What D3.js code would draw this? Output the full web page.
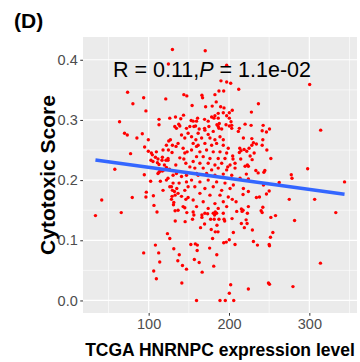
<!DOCTYPE html>
<html>
<head>
<meta charset="utf-8">
<script src="https://cdn.jsdelivr.net/npm/d3@7"></script>
<style>
  html, body { margin: 0; padding: 0; background: #fff; }
  svg text { font-family: "Liberation Sans", Arial, sans-serif; }
</style>
</head>
<body>
<div id="chart"></div>
<script>
// HNRNPC expression vs cytotoxic score, [expression, score]
const samples = [
  [129.6,0.417],[170.4,0.415],[124.6,0.393],[197.1,0.391],[190.0,0.365],[197.1,0.363],[202.1,0.361],[300.4,0.359],
  [73.8,0.346],[187.5,0.348],[193.4,0.348],[212.1,0.351],[93.8,0.337],[121.3,0.335],[143.8,0.342],[147.5,0.340],
  [166.3,0.341],[167.1,0.337],[182.5,0.342],[80.4,0.327],[96.6,0.315],[154.1,0.324],[170.9,0.322],[184.1,0.330],
  [179.1,0.323],[189.6,0.322],[193.8,0.320],[204.1,0.316],[227.9,0.313],[236.6,0.327],[186.6,0.311],[182.5,0.307],
  [178.4,0.305],[197.1,0.307],[200.4,0.303],[112.9,0.301],[133.4,0.305],[140.0,0.302],[143.4,0.308],[160.9,0.303],
  [63.8,0.297],[112.9,0.292],[137.5,0.293],[174.1,0.298],[169.6,0.301],[159.6,0.298],[155.4,0.298],[152.9,0.299],
  [158.4,0.290],[162.9,0.285],[169.6,0.286],[175.0,0.289],[187.5,0.286],[185.0,0.292],[187.9,0.294],[196.3,0.292],
  [200.4,0.290],[212.9,0.286],[220.0,0.293],[227.5,0.291],[242.5,0.291],[202.5,0.297],[314.1,0.283],[250.4,0.285],
  [241.3,0.282],[70.0,0.278],[73.4,0.275],[85.4,0.270],[92.1,0.277],[99.6,0.267],[95.0,0.255],[99.6,0.248],
  [77.5,0.244],[57.9,0.218],[94.6,0.209],[33.8,0.141],[41.6,0.167],[65.9,0.146],[79.6,0.171],[97.1,0.180],
  [96.6,0.172],[105.9,0.174],[106.6,0.158],[110.4,0.147],[102.5,0.198],[114.6,0.198],[111.6,0.211],[112.9,0.213],
  [93.8,0.079],[108.4,0.092],[112.5,0.079],[113.8,0.064],[106.3,0.049],[109.6,0.036],[123.4,0.111],[126.3,0.103],
  [131.3,0.086],[138.1,0.076],[136.3,0.066],[142.1,0.058],[147.1,0.052],[141.3,0.029],[159.6,0.000],[152.5,0.093],
  [158.1,0.094],[160.6,0.092],[160.4,0.083],[156.9,0.068],[162.9,0.063],[166.6,0.047],[175.9,0.087],[184.8,0.076],
  [181.0,0.057],[133.1,0.132],[145.4,0.131],[147.5,0.146],[145.0,0.154],[132.9,0.149],[154.6,0.135],[156.3,0.142],
  [166.3,0.142],[166.3,0.138],[173.4,0.144],[180.4,0.145],[182.9,0.147],[184.6,0.145],[182.1,0.142],[164.6,0.121],
  [169.6,0.127],[177.1,0.135],[181.6,0.135],[187.5,0.135],[185.0,0.125],[177.9,0.118],[193.8,0.135],[194.6,0.132],
  [203.8,0.136],[209.6,0.148],[216.3,0.148],[222.9,0.145],[215.4,0.128],[221.3,0.134],[222.5,0.128],[219.1,0.121],
  [229.1,0.117],[205.4,0.113],[200.4,0.101],[196.6,0.097],[193.4,0.096],[207.5,0.093],[179.6,0.103],[182.9,0.114],
  [186.3,0.114],[230.4,0.098],[235.4,0.092],[240.0,0.149],[241.3,0.146],[250.0,0.093],[250.4,0.091],[249.1,0.029],
  [250.4,0.027],[224.1,0.019],[202.1,0.026],[200.4,0.012],[205.9,0.000],[195.4,0.000],[188.8,0.000],[279.6,0.023],
  [313.8,0.062],[343.8,0.197],[332.9,0.146],[306.6,0.168],[281.6,0.133],[275.0,0.168],[277.5,0.209],[278.4,0.203],
  [297.9,0.219],[262.5,0.196],[252.1,0.138],[257.9,0.141],[254.6,0.113],[251.6,0.105],[246.6,0.177],[237.9,0.172],
  [242.1,0.155],[217.5,0.150],[252.1,0.236],[244.6,0.216],[243.4,0.213],[246.6,0.280],[242.1,0.267],[241.3,0.258],
  [234.1,0.260],[225.0,0.253],[226.3,0.240],[220.0,0.223],[224.1,0.223],[213.4,0.253],[215.0,0.249],[233.4,0.216],
  [228.4,0.269],[218.8,0.251],[231.3,0.245],[228.8,0.234],[247.1,0.250],[205.0,0.235],[207.5,0.228],[198.4,0.222],
  [204.6,0.240],[234.1,0.171],[217.5,0.176],[250.0,0.182],[204.1,0.168],[208.8,0.164],[215.4,0.152],
  [156.3,0.289],[170.0,0.283],[180.4,0.281],[186.6,0.289],[190.9,0.285],[203.4,0.286],[161.6,0.278],[174.1,0.276],
  [153.4,0.272],[165.9,0.270],[176.3,0.270],[182.5,0.267],[188.8,0.272],[192.9,0.267],[158.8,0.267],[155.4,0.261],
  [161.6,0.258],[170.0,0.261],[178.4,0.258],[184.6,0.261],[192.9,0.258],[199.1,0.253],[153.4,0.250],[163.8,0.247],
  [172.1,0.250],[180.4,0.247],[188.8,0.247],[197.1,0.245],[159.6,0.239],[167.9,0.239],[176.3,0.236],[186.6,0.236],
  [195.0,0.236],[155.4,0.231],[163.8,0.228],[174.1,0.228],[182.5,0.225],[190.9,0.228],[201.3,0.225],[157.5,0.220],
  [167.9,0.220],[178.4,0.217],[186.6,0.220],[197.1,0.217],[207.5,0.220],[161.6,0.208],[172.1,0.211],[182.5,0.208],
  [192.9,0.210],[203.4,0.208],[153.4,0.200],[163.8,0.197],[174.1,0.200],[184.6,0.197],[195.0,0.195],[205.4,0.192],
  [157.5,0.189],[170.0,0.186],[180.4,0.189],[190.9,0.183],[201.3,0.186],[163.8,0.178],[176.3,0.175],[188.8,0.175],
  [199.1,0.172],[155.4,0.167],[167.9,0.164],[182.5,0.161],[192.9,0.164],[159.6,0.156],[174.1,0.153],[186.6,0.153],
  [197.1,0.156],[155.4,0.147],[170.0,0.145],[192.9,0.145],[211.6,0.281],[217.9,0.270],[236.3,0.212],[217.9,0.186],
  [224.1,0.181],[242.9,0.192],[213.8,0.203],[224.1,0.156],
  [132.5,0.289],[138.8,0.290],[147.1,0.286],[125.0,0.265],[127.1,0.267],[129.6,0.258],[124.6,0.250],[129.1,0.246],
  [134.1,0.256],[136.6,0.261],[140.9,0.275],[145.0,0.270],[149.1,0.278],[142.9,0.253],[147.9,0.247],[138.8,0.237],
  [143.8,0.235],[133.8,0.225],[146.3,0.228],[117.1,0.238],[116.6,0.233],[112.9,0.226],[110.9,0.229],[104.6,0.242],
  [102.9,0.233],[108.4,0.238],[105.4,0.231],[114.1,0.215],[119.1,0.217],[122.1,0.221],[125.9,0.218],[124.1,0.203],
  [130.4,0.208],[134.6,0.211],[140.9,0.206],[147.1,0.208],[128.4,0.189],[129.6,0.183],[132.1,0.181],[135.0,0.186],
  [132.9,0.175],[129.1,0.173],[128.4,0.168],[131.3,0.163],[130.9,0.159],[136.6,0.178],[140.9,0.173],[146.3,0.168],
  [149.1,0.171],[145.0,0.183],[149.1,0.189],[137.9,0.195],[147.1,0.197],[142.9,0.156],[136.6,0.150],
  [126.3,0.303],[134.6,0.286],[122.1,0.258],[117.9,0.250],[124.1,0.236],[151.3,0.289],[159.6,0.256],[145.0,0.245],
  [151.3,0.222],[159.6,0.211],[121.6,0.233],[124.1,0.233],[119.6,0.225],[117.1,0.215],[212.9,0.246],[214.6,0.235],
  [222.9,0.225],[221.6,0.210],[224.1,0.202],[230.4,0.262],[228.4,0.258],[222.1,0.248],
  [200.4,0.312],[192.9,0.312],[186.6,0.303],[181.3,0.303],[203.4,0.291],
  [111.6,0.235],[103.4,0.245],[109.6,0.247],[122.1,0.200],[126.3,0.189],[130.4,0.195],[117.9,0.183]
];

// linear fit as drawn
const fitIntercept = 0.2395;
const fitSlope = -0.000183;

const xTicks = [100, 200, 300];
const xMinor = [50, 150, 250, 350];
const yTicks = [0.0, 0.1, 0.2, 0.3, 0.4];
const yMinor = [0.05, 0.15, 0.25, 0.35];

const panelLabel = "(D)";
const xTitle = "TCGA HNRNPC expression level";
const yTitle = "Cytotoxic Score";
const statR = "0.11";
const statP = "1.1e-02";

const width = 360, height = 362;
const margin = { top: 37, right: 3, bottom: 49, left: 83 };
const pw = width - margin.left - margin.right;
const ph = height - margin.top - margin.bottom;

const svg = d3.select('#chart')
  .append('svg')
  .attr('width', width)
  .attr('height', height);

// ggplot style 5% padding around the data
const xExt = d3.extent(samples, d => d[0]);
const yExt = d3.extent(samples, d => d[1]);
const xPad = (xExt[1] - xExt[0]) * 0.05;
const yPad = (yExt[1] - yExt[0]) * 0.05;

const x = d3.scaleLinear().domain([xExt[0] - xPad, xExt[1] + xPad]).range([0, pw]);
const y = d3.scaleLinear().domain([yExt[0] - yPad, yExt[1] + yPad]).range([ph, 0]);

const g = svg.append('g').attr('transform', `translate(${margin.left},${margin.top})`);

g.append('rect').attr('width', pw).attr('height', ph).attr('fill', '#EBEBEB');

// minor grid
g.selectAll('.xminor').data(xMinor.filter(v => x(v) >= 0 && x(v) <= pw)).enter()
  .append('line')
  .attr('x1', d => x(d)).attr('x2', d => x(d)).attr('y1', 0).attr('y2', ph)
  .attr('stroke', '#fff').attr('stroke-width', 0.6);
g.selectAll('.yminor').data(yMinor).enter()
  .append('line')
  .attr('y1', d => y(d)).attr('y2', d => y(d)).attr('x1', 0).attr('x2', pw)
  .attr('stroke', '#fff').attr('stroke-width', 0.6);

// major grid + axes
const xAxis = d3.axisBottom(x).tickValues(xTicks).tickSize(2.75).tickPadding(3).tickFormat(d3.format('d'));
const yAxis = d3.axisLeft(y).tickValues(yTicks).tickSize(2.75).tickPadding(2.5).tickFormat(d3.format('.1f'));

g.selectAll('.xmajor').data(xTicks).enter()
  .append('line')
  .attr('x1', d => x(d)).attr('x2', d => x(d)).attr('y1', 0).attr('y2', ph)
  .attr('stroke', '#fff').attr('stroke-width', 1.2);
g.selectAll('.ymajor').data(yTicks).enter()
  .append('line')
  .attr('y1', d => y(d)).attr('y2', d => y(d)).attr('x1', 0).attr('x2', pw)
  .attr('stroke', '#fff').attr('stroke-width', 1.2);

const gx = g.append('g').attr('transform', `translate(0,${ph})`).call(xAxis);
const gy = g.append('g').call(yAxis);
[gx, gy].forEach(a => {
  a.select('.domain').remove();
  a.selectAll('line').attr('stroke', '#333333').attr('stroke-width', 1);
  a.selectAll('text').attr('fill', '#4D4D4D').style('font-size', '14.5px')
    .style('font-family', '"Liberation Sans", Arial, sans-serif');
});

// points
g.append('g').selectAll('circle').data(samples).enter()
  .append('circle')
  .attr('cx', d => x(d[0]))
  .attr('cy', d => y(d[1]))
  .attr('r', 1.7)
  .attr('fill', '#FF0000');

// fit line over the data range
g.append('line')
  .attr('x1', x(xExt[0])).attr('y1', y(fitIntercept + fitSlope * xExt[0]))
  .attr('x2', x(xExt[1])).attr('y2', y(fitIntercept + fitSlope * xExt[1]))
  .attr('stroke', '#3366FF').attr('stroke-width', 3.6);

// correlation annotation
const ann = g.append('text')
  .attr('x', 30).attr('y', 40)
  .style('font-size', '21.5px').attr('fill', '#000');
ann.append('tspan').text(`R = ${statR},`);
ann.append('tspan').style('font-style', 'italic').text('P');
ann.append('tspan').text(` = ${statP}`);

// titles
svg.append('text')
  .attr('x', margin.left + pw / 2).attr('y', 356)
  .attr('text-anchor', 'middle')
  .style('font-size', '17.5px').style('font-weight', 'bold')
  .text(xTitle);

svg.append('text')
  .attr('transform', `translate(55,${margin.top + ph / 2}) rotate(-90)`)
  .attr('text-anchor', 'middle')
  .style('font-size', '21px').style('font-weight', 'bold')
  .text(yTitle);

svg.append('text')
  .attr('x', 14).attr('y', 28)
  .style('font-size', '21px').style('font-weight', 'bold')
  .text(panelLabel);
</script>
</body>
</html>
